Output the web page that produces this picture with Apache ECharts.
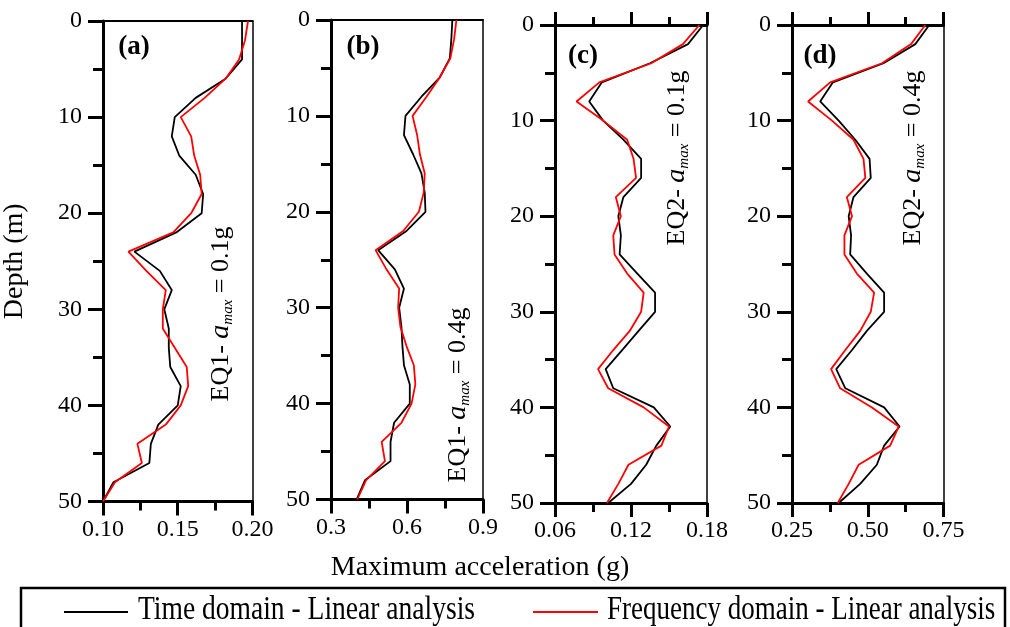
<!DOCTYPE html>
<html>
<head>
<meta charset="utf-8">
<script src="https://cdn.jsdelivr.net/npm/echarts@6/dist/echarts.min.js"></script>
<style>
  html, body { margin: 0; padding: 0; background: #fff; }
  #chart { width: 1010px; height: 627px; }
</style>
</head>
<body>
<div id="chart"></div>
<script>
// depth of each reading (m)
var depth = [0, 2, 4, 6, 8, 10, 12, 14, 16, 18, 20, 22, 24, 26, 28, 30, 32, 34, 36, 38, 40, 42, 44, 46, 48, 50];

// max acceleration (g), time domain vs frequency domain
var timeA = [0.193, 0.193, 0.193, 0.182, 0.162, 0.148, 0.146, 0.151, 0.162, 0.167, 0.166, 0.149, 0.121, 0.138, 0.146, 0.141, 0.144, 0.144, 0.145, 0.152, 0.150, 0.137, 0.132, 0.131, 0.107, 0.100];
var freqA = [0.197, 0.195, 0.191, 0.182, 0.168, 0.152, 0.159, 0.161, 0.165, 0.166, 0.159, 0.147, 0.117, 0.129, 0.142, 0.140, 0.140, 0.148, 0.156, 0.157, 0.152, 0.142, 0.123, 0.126, 0.108, 0.100];
var timeB = [0.779, 0.775, 0.769, 0.729, 0.657, 0.594, 0.588, 0.624, 0.657, 0.670, 0.673, 0.598, 0.486, 0.552, 0.588, 0.569, 0.578, 0.582, 0.588, 0.611, 0.611, 0.549, 0.535, 0.535, 0.434, 0.401];
var freqB = [0.795, 0.786, 0.771, 0.729, 0.677, 0.622, 0.640, 0.651, 0.670, 0.666, 0.647, 0.585, 0.476, 0.519, 0.569, 0.565, 0.574, 0.598, 0.627, 0.633, 0.618, 0.578, 0.500, 0.513, 0.438, 0.404];
var timeC = [0.177, 0.165, 0.135, 0.097, 0.087, 0.098, 0.114, 0.128, 0.128, 0.114, 0.110, 0.112, 0.111, 0.125, 0.139, 0.139, 0.126, 0.113, 0.100, 0.106, 0.138, 0.151, 0.140, 0.132, 0.120, 0.102];
var freqC = [0.174, 0.161, 0.136, 0.095, 0.077, 0.098, 0.117, 0.122, 0.124, 0.108, 0.112, 0.106, 0.107, 0.117, 0.130, 0.128, 0.119, 0.106, 0.094, 0.102, 0.130, 0.150, 0.144, 0.118, 0.110, 0.101];
var timeD = [0.703, 0.657, 0.552, 0.385, 0.343, 0.404, 0.459, 0.506, 0.510, 0.453, 0.437, 0.445, 0.442, 0.497, 0.554, 0.554, 0.497, 0.448, 0.396, 0.426, 0.554, 0.605, 0.554, 0.530, 0.475, 0.404];
var freqD = [0.690, 0.643, 0.547, 0.376, 0.303, 0.382, 0.453, 0.486, 0.492, 0.431, 0.448, 0.423, 0.423, 0.464, 0.521, 0.510, 0.475, 0.426, 0.379, 0.409, 0.514, 0.602, 0.574, 0.470, 0.437, 0.401];

// tick labels
var yLabels = ['0', '10', '20', '30', '40', '50'];
var xLabelsA = ['0.10', '0.15', '0.20'];
var xLabelsB = ['0.3', '0.6', '0.9'];
var xLabelsC = ['0.06', '0.12', '0.18'];
var xLabelsD = ['0.25', '0.50', '0.75'];

var seriesNames = ['Time domain - Linear analysis', 'Frequency domain - Linear analysis'];
var panelTags = ['(a)', '(b)', '(c)', '(d)'];
var panelNotes = ['EQ1- {i|a}{s|max} = 0.1g', 'EQ1- {i|a}{s|max} = 0.4g', 'EQ2- {i|a}{s|max} = 0.1g', 'EQ2- {i|a}{s|max} = 0.4g'];

var serif = 'Liberation Serif, Times New Roman, serif';
var chart = echarts.init(document.getElementById('chart'));

var panels = [
	{ left: 100.5, top: 21, width: 152, height: 480.5, labels: xLabelsA, min: 0.10, max: 0.20, interval: 0.05, topTicks: false, time: timeA, freq: freqA, tag: [134, 47], note: [221, 314] },
	{ left: 331, top: 20, width: 152, height: 479.5, labels: xLabelsB, min: 0.3, max: 0.9, interval: 0.3, topTicks: false, time: timeB, freq: freqB, tag: [363, 47], note: [458, 395] },
	{ left: 555, top: 25, width: 152, height: 478, labels: xLabelsC, min: 0.06, max: 0.18, interval: 0.06, topTicks: true, time: timeC, freq: freqC, tag: [583, 56], note: [677, 158] },
	{ left: 792, top: 25, width: 151.5, height: 478, labels: xLabelsD, min: 0.25, max: 0.75, interval: 0.25, topTicks: true, time: timeD, freq: freqD, tag: [820, 56], note: [913, 158] }
];

function labelFor(list) {
	return function (v) {
		for (var k = 0; k < list.length; k++) {
			if (Math.abs(parseFloat(list[k]) - v) < 1e-9) return list[k];
		}
		return '';
	};
}

function zip(xs) {
	return depth.map(function (d, i) { return [xs[i], d]; });
}

var grid = [], xAxis = [], yAxis = [], series = [], graphic = [];

panels.forEach(function (p, i) {
	grid.push({ left: p.left, top: p.top, width: p.width, height: p.height, containLabel: false });

	// bottom axis
	xAxis.push({
		gridIndex: i, type: 'value', position: 'bottom',
		min: p.min, max: p.max, interval: p.interval,
		axisLine: { onZero: false, lineStyle: { color: '#000', width: 3 } },
		axisTick: { length: 14, lineStyle: { color: '#000', width: 3 } },
		minorTick: { show: true, splitNumber: 2, length: 9, lineStyle: { color: '#000', width: 3 } },
		splitLine: { show: false },
		axisLabel: { margin: 16, fontSize: 24, fontFamily: serif, color: '#000', formatter: labelFor(p.labels) }
	});
	// top axis (frame, with ticks for EQ2 panels)
	xAxis.push({
		gridIndex: i, type: 'value', position: 'top',
		min: p.min, max: p.max, interval: p.interval,
		axisLine: { onZero: false, lineStyle: { color: '#000', width: p.topTicks ? 3 : 2 } },
		axisTick: { show: p.topTicks, length: 13, lineStyle: { color: '#000', width: 3 } },
		minorTick: { show: p.topTicks, splitNumber: 2, length: 8, lineStyle: { color: '#000', width: 3 } },
		splitLine: { show: false },
		axisLabel: { show: false }
	});

	yAxis.push({
		gridIndex: i, type: 'value', inverse: true, position: 'left',
		min: 0, max: 50, interval: 10,
		name: i === 0 ? 'Depth (m)' : '',
		nameLocation: 'middle', nameGap: 74, nameRotate: 90,
		nameTextStyle: { fontSize: 28, fontFamily: serif, color: '#000' },
		axisLine: { onZero: false, lineStyle: { color: '#000', width: 3 } },
		axisTick: { length: 15, lineStyle: { color: '#000', width: 3 } },
		minorTick: { show: true, splitNumber: 2, length: 10, lineStyle: { color: '#000', width: 3 } },
		splitLine: { show: false },
		axisLabel: { margin: 21, fontSize: 24, fontFamily: serif, color: '#000', formatter: labelFor(yLabels) }
	});
	yAxis.push({
		gridIndex: i, type: 'value', inverse: true, position: 'right',
		min: 0, max: 50, interval: 10,
		axisLine: { onZero: false, lineStyle: { color: '#000', width: 1.5 } },
		axisTick: { show: false }, axisLabel: { show: false }, splitLine: { show: false }
	});

	series.push({
		name: seriesNames[0], type: 'line', xAxisIndex: i * 2, yAxisIndex: i * 2,
		data: zip(p.time), showSymbol: false, symbol: 'none',
		lineStyle: { color: '#000', width: 1.8 }, itemStyle: { color: '#000' }
	});
	series.push({
		name: seriesNames[1], type: 'line', xAxisIndex: i * 2, yAxisIndex: i * 2,
		data: zip(p.freq), showSymbol: false, symbol: 'none',
		lineStyle: { color: '#ff0000', width: 1.8 }, itemStyle: { color: '#ff0000' }
	});

	graphic.push({
		type: 'text', x: p.tag[0], y: p.tag[1],
		style: { text: panelTags[i], fontSize: 27, fontWeight: 'bold', fontFamily: serif, fill: '#000', align: 'center', verticalAlign: 'middle' }
	});
	graphic.push({
		type: 'text', x: p.note[0], y: p.note[1], rotation: Math.PI / 2,
		style: {
			text: panelNotes[i], fontSize: 26, fontFamily: serif, fill: '#000', align: 'center', verticalAlign: 'middle',
			rich: {
				i: { fontSize: 28, fontStyle: 'italic', fontFamily: serif, fill: '#000' },
				s: { fontSize: 15, fontStyle: 'italic', fontFamily: serif, fill: '#000', padding: [14, 0, 0, 0] }
			}
		}
	});
});

// shared x-axis title
graphic.push({
	type: 'text', x: 480, y: 568,
	style: { text: 'Maximum acceleration (g)', fontSize: 28, fontFamily: serif, fill: '#000', align: 'center', verticalAlign: 'middle' }
});

// legend box
graphic.push({
	type: 'rect', shape: { x: 21, y: 588, width: 984, height: 60 },
	style: { fill: 'none', stroke: '#000', lineWidth: 2.5 }
});
graphic.push({ type: 'line', shape: { x1: 64, y1: 612, x2: 128, y2: 612 }, style: { stroke: '#000', lineWidth: 2 } });
graphic.push({ type: 'line', shape: { x1: 533, y1: 612, x2: 598, y2: 612 }, style: { stroke: '#ff0000', lineWidth: 2 } });
graphic.push({
	type: 'text', x: 138, y: 610, scaleX: 1.02, scaleY: 1.25,
	style: { text: seriesNames[0], fontSize: 27, fontFamily: serif, fill: '#000', align: 'left', verticalAlign: 'middle' }
});
graphic.push({
	type: 'text', x: 607, y: 610, scaleX: 1.0, scaleY: 1.25,
	style: { text: seriesNames[1], fontSize: 27, fontFamily: serif, fill: '#000', align: 'left', verticalAlign: 'middle' }
});

chart.setOption({
	backgroundColor: '#fff',
	animation: false,
	grid: grid,
	xAxis: xAxis,
	yAxis: yAxis,
	series: series,
	graphic: graphic
});
</script>
</body>
</html>
